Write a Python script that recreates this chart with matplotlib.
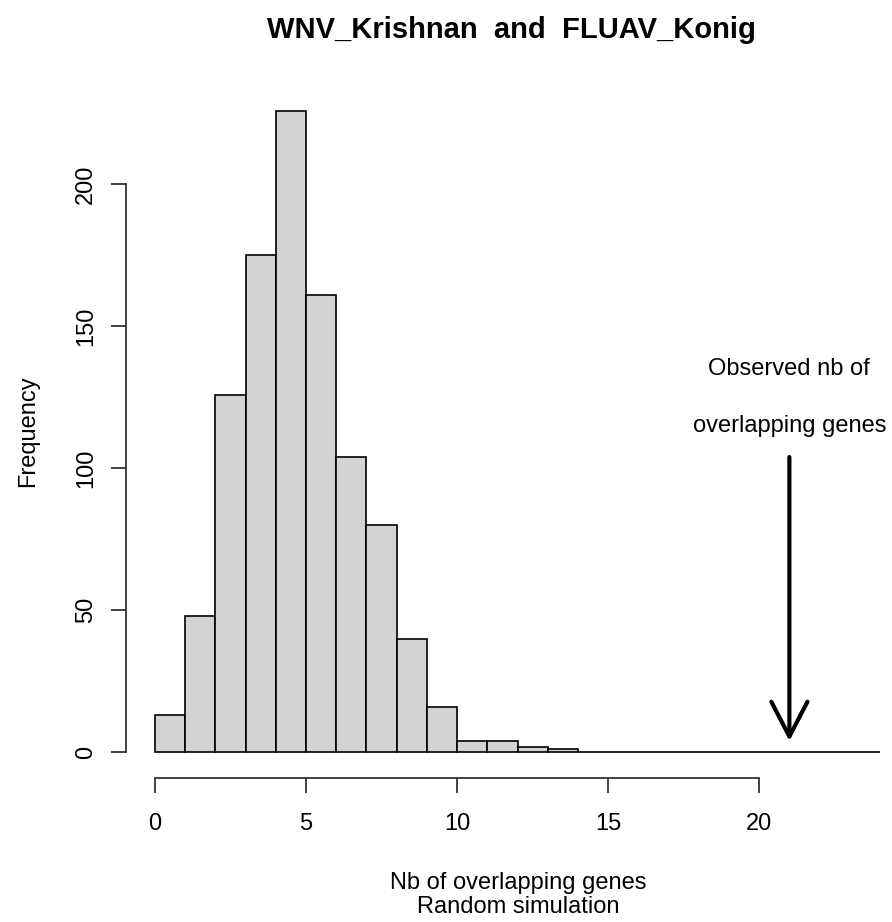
import numpy as np
import matplotlib.pyplot as plt

plt.rcParams['font.family'] = ['Liberation Sans', 'DejaVu Sans']

# histogram of simulated overlaps (bin width 1, from 0 to 24)
bin_edges = list(range(0, 25))
counts = [13, 48, 126, 175, 226, 161, 104, 80, 40, 16, 4, 4, 2, 1,
          0, 0, 0, 0, 0, 0, 0, 0, 0, 0]
observed = 21
arrow_top = 104
arrow_bottom = 4

x_ticks = [0, 5, 10, 15, 20]
y_ticks = [0, 50, 100, 150, 200]

W, H = 892, 922
fig = plt.figure(figsize=(W / 100, H / 100), dpi=100)


def px(x, y):
    # pixel position (from top-left) -> figure fraction
    return x / W, 1 - y / H


left, right, bottom, top = 126, 909, 778, 85
ax = fig.add_axes([left / W, 1 - bottom / H, (right - left) / W, (bottom - top) / H])

ax.bar(bin_edges[:-1], counts, width=1, align='edge', color='#d3d3d3',
       edgecolor='black', linewidth=1.2)

xmax = bin_edges[-1]
ymax = max(counts)
ax.set_xlim(-0.04 * xmax, xmax * 1.04)
ax.set_ylim(-0.04 * ymax, ymax * 1.04)

for s in ['top', 'right']:
    ax.spines[s].set_visible(False)
ax.spines['left'].set_bounds(y_ticks[0], y_ticks[-1])
ax.spines['bottom'].set_bounds(x_ticks[0], x_ticks[-1])
for s in ['left', 'bottom']:
    ax.spines[s].set_linewidth(1.3)
    ax.spines[s].set_color('#333333')

ax.set_xticks(x_ticks)
ax.set_yticks(y_ticks)
ax.set_yticklabels([str(v) for v in y_ticks], rotation=90, va='center')
ax.tick_params(axis='both', direction='out', length=11, width=1.3,
               color='#333333', labelsize=17)
ax.tick_params(axis='x', pad=14)
ax.tick_params(axis='y', pad=10)

fs = 17
fig.text(*px(511, 30), 'WNV_Krishnan  and  FLUAV_Konig', fontsize=21,
         fontweight='bold', ha='center', va='center')
fig.text(*px(518, 883), 'Nb of overlapping genes', fontsize=fs,
         ha='center', va='center')
fig.text(*px(518, 907), 'Random simulation', fontsize=fs,
         ha='center', va='center')
fig.text(*px(28, 431), 'Frequency', fontsize=fs, rotation=90,
         ha='center', va='center')

ax.annotate('', xy=(observed, arrow_bottom), xytext=(observed, arrow_top),
            arrowprops=dict(arrowstyle='->,head_length=2.5,head_width=1.3',
                            lw=3, color='black', shrinkA=0, shrinkB=0))
ax.text(observed, 135, 'Observed nb of', ha='center', va='center', fontsize=fs)
ax.text(observed, 115, 'overlapping genes', ha='center', va='center', fontsize=fs)

fig.savefig('out.png', dpi=100)
